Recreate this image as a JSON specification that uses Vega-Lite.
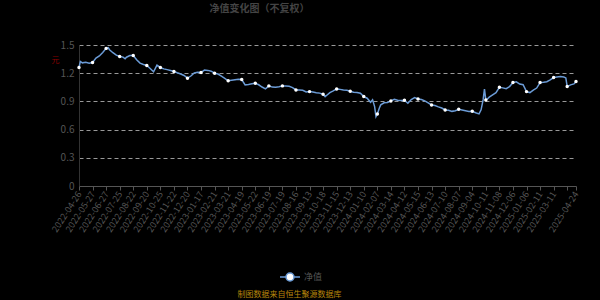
{
  "$schema": "https://vega.github.io/schema/vega-lite/v6.json",
  "width": 497,
  "height": 141,
  "autosize": "none",
  "padding": {"left": 79, "top": 45, "right": 24, "bottom": 114},
  "background": "#000000",
  "config": {"view": {"stroke": null}, "font": "Noto Sans CJK SC"},
  "title": {"text": "净值变化图（不复权）", "font": "Noto Sans CJK SC", "fontSize": 10, "fontWeight": "bold", "color": "#444444", "anchor": "middle", "dx": -68, "offset": 26},
  "data": {"values": [
    {"i":0,"nav":1.261},{"i":2,"nav":1.325},{"i":5,"nav":1.31},{"i":10,"nav":1.316},{"i":15,"nav":1.305},
    {"i":20,"nav":1.314},{"i":25,"nav":1.36},{"i":30,"nav":1.383},{"i":35,"nav":1.42},{"i":40,"nav":1.464},
    {"i":43,"nav":1.471},{"i":45,"nav":1.45},{"i":50,"nav":1.418},{"i":55,"nav":1.392},{"i":60,"nav":1.378},
    {"i":65,"nav":1.371},{"i":68,"nav":1.354},{"i":70,"nav":1.37},{"i":75,"nav":1.388},{"i":80,"nav":1.389},
    {"i":85,"nav":1.343},{"i":90,"nav":1.307},{"i":95,"nav":1.292},{"i":100,"nav":1.282},{"i":105,"nav":1.25},
    {"i":110,"nav":1.215},{"i":115,"nav":1.286},{"i":120,"nav":1.261},{"i":125,"nav":1.246},{"i":130,"nav":1.238},
    {"i":135,"nav":1.228},{"i":140,"nav":1.218},{"i":145,"nav":1.204},{"i":150,"nav":1.192},{"i":155,"nav":1.176},
    {"i":160,"nav":1.147},{"i":165,"nav":1.17},{"i":170,"nav":1.202},{"i":175,"nav":1.209},{"i":180,"nav":1.207},
    {"i":185,"nav":1.233},{"i":190,"nav":1.23},{"i":195,"nav":1.221},{"i":200,"nav":1.2},{"i":205,"nav":1.191},
    {"i":210,"nav":1.168},{"i":215,"nav":1.145},{"i":220,"nav":1.119},{"i":225,"nav":1.125},{"i":230,"nav":1.13},
    {"i":235,"nav":1.135},{"i":240,"nav":1.133},{"i":245,"nav":1.076},{"i":250,"nav":1.08},{"i":255,"nav":1.088},
    {"i":260,"nav":1.094},{"i":265,"nav":1.077},{"i":270,"nav":1.053},{"i":275,"nav":1.033},{"i":280,"nav":1.065},
    {"i":285,"nav":1.052},{"i":290,"nav":1.05},{"i":295,"nav":1.055},{"i":300,"nav":1.065},{"i":305,"nav":1.064},
    {"i":310,"nav":1.06},{"i":315,"nav":1.047},{"i":320,"nav":1.022},{"i":325,"nav":1.02},{"i":330,"nav":1.018},
    {"i":335,"nav":1.0},{"i":340,"nav":1.004},{"i":345,"nav":1.0},{"i":350,"nav":0.993},{"i":355,"nav":0.988},
    {"i":360,"nav":0.976},{"i":363,"nav":0.951},{"i":365,"nav":0.963},{"i":370,"nav":0.994},{"i":375,"nav":1.012},
    {"i":380,"nav":1.033},{"i":385,"nav":1.028},{"i":390,"nav":1.022},{"i":395,"nav":1.018},{"i":400,"nav":1.008},
    {"i":405,"nav":0.997},{"i":410,"nav":0.994},{"i":415,"nav":0.987},{"i":420,"nav":0.951},{"i":425,"nav":0.934},
    {"i":430,"nav":0.89},{"i":433,"nav":0.916},{"i":436,"nav":0.845},{"i":438,"nav":0.738},{"i":440,"nav":0.766},
    {"i":443,"nav":0.83},{"i":445,"nav":0.863},{"i":450,"nav":0.885},{"i":455,"nav":0.888},{"i":460,"nav":0.905},
    {"i":465,"nav":0.922},{"i":470,"nav":0.912},{"i":475,"nav":0.909},{"i":480,"nav":0.912},{"i":485,"nav":0.88},
    {"i":490,"nav":0.92},{"i":495,"nav":0.941},{"i":500,"nav":0.926},{"i":505,"nav":0.92},{"i":510,"nav":0.906},
    {"i":515,"nav":0.885},{"i":520,"nav":0.862},{"i":525,"nav":0.856},{"i":530,"nav":0.842},{"i":535,"nav":0.83},
    {"i":540,"nav":0.809},{"i":545,"nav":0.806},{"i":550,"nav":0.794},{"i":555,"nav":0.8},{"i":560,"nav":0.816},
    {"i":565,"nav":0.808},{"i":570,"nav":0.8},{"i":575,"nav":0.792},{"i":580,"nav":0.795},{"i":585,"nav":0.779},
    {"i":590,"nav":0.767},{"i":593,"nav":0.81},{"i":596,"nav":0.916},{"i":598,"nav":1.03},{"i":600,"nav":0.916},
    {"i":602,"nav":0.923},{"i":605,"nav":0.945},{"i":610,"nav":0.969},{"i":615,"nav":0.993},{"i":620,"nav":1.05},
    {"i":625,"nav":1.044},{"i":630,"nav":1.036},{"i":635,"nav":1.058},{"i":640,"nav":1.1},{"i":645,"nav":1.108},
    {"i":650,"nav":1.084},{"i":655,"nav":1.077},{"i":660,"nav":1.004},{"i":665,"nav":0.994},{"i":670,"nav":1.02},
    {"i":675,"nav":1.042},{"i":680,"nav":1.1},{"i":685,"nav":1.104},{"i":690,"nav":1.109},{"i":695,"nav":1.128},
    {"i":700,"nav":1.154},{"i":705,"nav":1.16},{"i":710,"nav":1.166},{"i":715,"nav":1.16},{"i":718,"nav":1.15},
    {"i":720,"nav":1.058},{"i":725,"nav":1.076},{"i":730,"nav":1.086},{"i":733,"nav":1.111}
  ]},
  "layer": [
    {
      "mark": {"type": "line", "strokeWidth": 1.5},
      "encoding": {
        "x": {"field": "i", "type": "quantitative",
          "scale": {"domain": [0, 733], "nice": false, "zero": false},
          "axis": {
            "values": [0,20,40,60,80,100,120,140,160,180,200,220,240,260,280,300,320,340,360,380,400,420,440,460,480,500,520,540,560,580,600,620,640,660,680,700,720,733],
            "tickCount": 100,
            "labelExpr": "datum.value == 733 ? '2025-04-24' : datum.value == 720 ? '' : ['2022-04-26','2022-05-27','2022-06-27','2022-07-25','2022-08-22','2022-09-20','2022-10-25','2022-11-22','2022-12-20','2023-01-17','2023-02-21','2023-03-21','2023-04-19','2023-05-22','2023-06-19','2023-07-19','2023-08-16','2023-09-13','2023-10-18','2023-11-15','2023-12-13','2024-01-10','2024-02-07','2024-03-14','2024-04-12','2024-05-15','2024-06-13','2024-07-10','2024-08-07','2024-09-04','2024-10-11','2024-11-08','2024-12-06','2025-01-06','2025-02-11','2025-03-11'][datum.value / 20]",
            "labelAngle": -57, "labelFontSize": 9, "labelColor": "#555555", "labelOverlap": false, "labelFlush": false,
            "domainColor": "#555555", "tickColor": "#555555", "tickSize": 4, "grid": false,
            "title": "制图数据来自恒生聚源数据库", "titleColor": "#b8860b", "titleFontSize": 8, "titleFontWeight": "normal",
            "titleX": 210, "titleY": 110, "titleAlign": "center", "titleBaseline": "alphabetic"
          }
        },
        "y": {"field": "nav", "type": "quantitative",
          "scale": {"domain": [0, 1.5], "nice": false},
          "axis": {
            "values": [0, 0.3, 0.6, 0.9, 1.2, 1.5], "tickCount": 20, "format": "~g",
            "labelColor": "#555555", "labelFontSize": 10, "labelPadding": 5, "ticks": false, "labelOverlap": false,
            "domainColor": "#333333", "gridColor": "#999999", "gridDash": [4, 3], "gridWidth": 1,
            "title": "元", "titleColor": "#8b0000", "titleFontSize": 8, "titleFontWeight": "normal", "titleAngle": 0,
            "titleX": -24, "titleY": 15, "titleAlign": "center", "titleBaseline": "middle"
          }
        },
        "color": {"datum": "净值", "type": "nominal",
          "scale": {"range": ["#6b9bd6"]},
          "legend": {"orient": "none", "legendX": 205, "legendY": 226, "title": null, "padding": 0,
            "symbolType": "M-2,0L-0.8,0M0.8,0L2,0M0.8,0A0.8,0.8,0,1,1,-0.8,0A0.8,0.8,0,1,1,0.8,0Z",
            "symbolSize": 100, "symbolFillColor": "#ffffff", "symbolStrokeColor": "#6b9bd6", "symbolStrokeWidth": 1.5,
            "labelColor": "#555555", "labelFontSize": 9, "labelOffset": 8}
        }
      }
    },
    {
      "transform": [{"filter": "datum.i % 20 == 0 || datum.i == 733"}],
      "mark": {"type": "point", "filled": true, "color": "#ffffff", "size": 12, "opacity": 1},
      "encoding": {
        "x": {"field": "i", "type": "quantitative"},
        "y": {"field": "nav", "type": "quantitative"}
      }
    }
  ]
}
